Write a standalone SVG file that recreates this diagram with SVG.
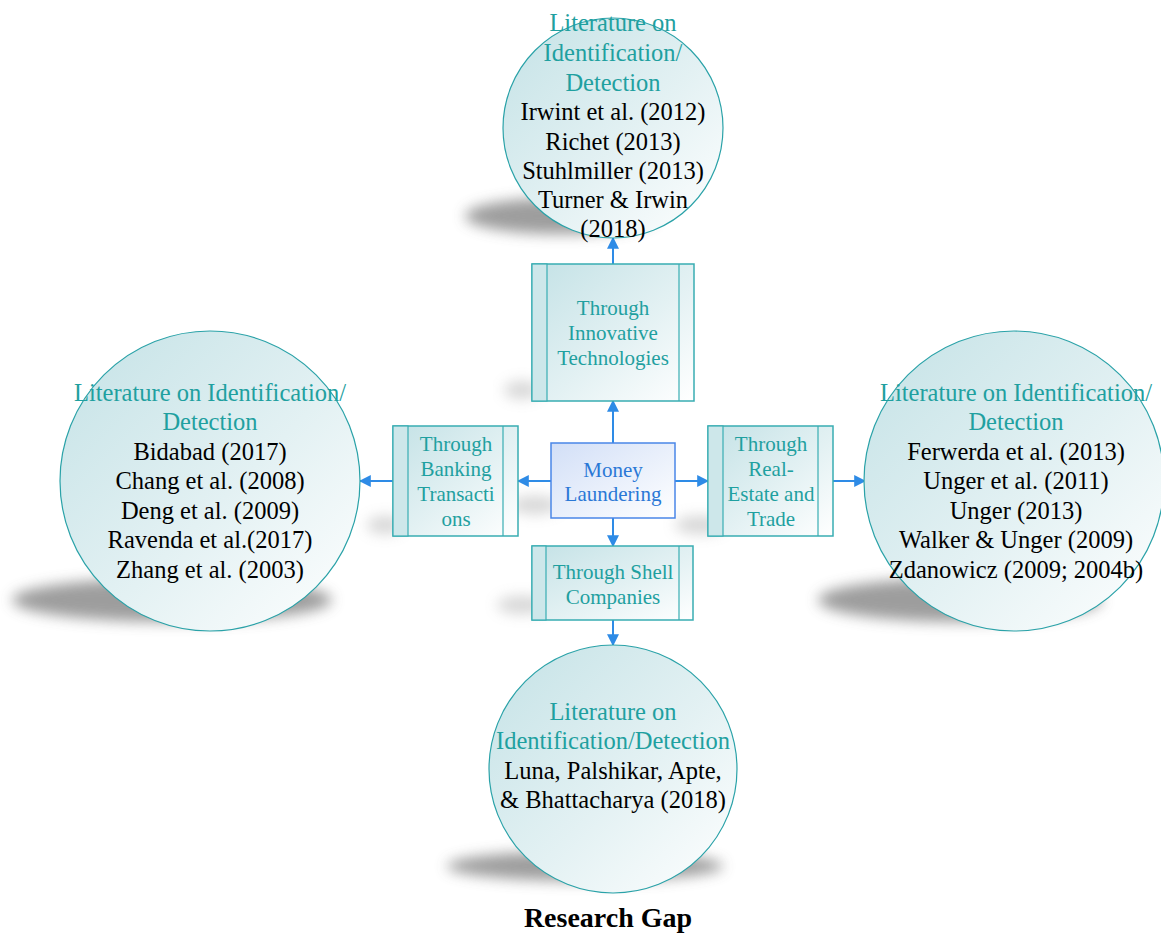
<svg xmlns="http://www.w3.org/2000/svg" width="1161" height="934" viewBox="0 0 1161 934">
  <defs>
    <linearGradient id="tealFill" x1="0" y1="0" x2="1" y2="1">
      <stop offset="0" stop-color="#c4e2e6"/>
      <stop offset="0.55" stop-color="#e3f1f3"/>
      <stop offset="1" stop-color="#ffffff"/>
    </linearGradient>
    <linearGradient id="blueFill" x1="0" y1="0" x2="1" y2="1">
      <stop offset="0" stop-color="#d2dff7"/>
      <stop offset="1" stop-color="#ffffff"/>
    </linearGradient>
    <filter id="soft" x="-30%" y="-100%" width="160%" height="300%">
      <feGaussianBlur stdDeviation="7"/>
    </filter>
    <marker id="arrow" viewBox="0 0 10 10" refX="9" refY="5" markerWidth="12" markerHeight="12" markerUnits="userSpaceOnUse" orient="auto">
      <path d="M0,0 L10,5 L0,10 z" fill="#2e8be6"/>
    </marker>
  </defs>
  <style>
    .circle { fill: url(#tealFill); stroke: #2aa2a8; stroke-width: 1.2; }
    .box { fill: url(#tealFill); stroke: #38adb2; stroke-width: 1.5; }
    .bar { fill: #cde7ea; stroke: #38adb2; stroke-width: 1.2; }
    .core { fill: url(#blueFill); stroke: #4a86e8; stroke-width: 1.5; }
    .shadow { fill: #8c8c8c; filter: url(#soft); opacity: 0.85; }
    .bshadow { fill: #9a9a9a; filter: url(#soft); opacity: 0.4; }
    .head { font-family: "Liberation Serif", "Times New Roman", serif; font-size: 24.5px; fill: #1fa0a0; text-anchor: middle; }
    .ref { font-family: "Liberation Serif", "Times New Roman", serif; font-size: 24.5px; fill: #000; text-anchor: middle; }
    .lbl { font-family: "Liberation Serif", "Times New Roman", serif; font-size: 21px; fill: #1fa0a0; text-anchor: middle; }
    .core-lbl { font-family: "Liberation Serif", "Times New Roman", serif; font-size: 21px; fill: #2a78d6; text-anchor: middle; }
    .title { font-family: "Liberation Serif", "Times New Roman", serif; font-size: 28px; font-weight: bold; fill: #000; text-anchor: middle; }
    .link { stroke: #2e8be6; stroke-width: 2; fill: none; marker-end: url(#arrow); }
    .divider { stroke: #38adb2; stroke-width: 1.2; }
  </style>

  <!-- drop shadows -->
  <g id="shadows">
    <ellipse class="shadow" cx="560" cy="216" rx="95" ry="18"/>
    <ellipse class="shadow" cx="172" cy="600" rx="160" ry="22"/>
    <ellipse class="shadow" cx="960" cy="600" rx="142" ry="22"/>
    <ellipse class="shadow" cx="585" cy="866" rx="138" ry="15"/>
    <ellipse class="bshadow" cx="535" cy="505" rx="25" ry="9"/>
    <ellipse class="bshadow" cx="522" cy="605" rx="25" ry="9"/>
    <ellipse class="bshadow" cx="700" cy="525" rx="25" ry="9"/>
    <ellipse class="bshadow" cx="522" cy="390" rx="18" ry="9"/>
    <ellipse class="bshadow" cx="385" cy="525" rx="18" ry="9"/>
  </g>

  <!-- connectors -->
  <g id="connectors">
    <line class="link" x1="613" y1="443" x2="613" y2="401"/>
    <line class="link" x1="613" y1="264" x2="613" y2="238"/>
    <line class="link" x1="551" y1="481" x2="518" y2="481"/>
    <line class="link" x1="393" y1="481" x2="360" y2="481"/>
    <line class="link" x1="675" y1="481" x2="708" y2="481"/>
    <line class="link" x1="833" y1="481" x2="865" y2="481"/>
    <line class="link" x1="613" y1="518" x2="613" y2="546"/>
    <line class="link" x1="613" y1="620" x2="613" y2="645"/>
  </g>

  <!-- centre -->
  <g id="money-laundering">
    <rect class="core" x="551" y="443" width="124" height="75"/>
    <text class="core-lbl" x="613" y="477">Money</text>
    <text class="core-lbl" x="613" y="501">Laundering</text>
  </g>

  <!-- channels -->
  <g id="innovative-technologies">
    <rect class="box" x="532" y="264" width="162" height="137"/>
    <rect class="bar" x="532" y="264" width="15" height="137"/>
    <line class="divider" x1="679" y1="264" x2="679" y2="401"/>
    <text class="lbl" x="613" y="315">Through</text>
    <text class="lbl" x="613" y="340">Innovative</text>
    <text class="lbl" x="613" y="365">Technologies</text>
  </g>

  <g id="banking-transactions">
    <rect class="box" x="393" y="426" width="125" height="110"/>
    <rect class="bar" x="393" y="426" width="15" height="110"/>
    <line class="divider" x1="503" y1="426" x2="503" y2="536"/>
    <text class="lbl" x="456" y="451">Through</text>
    <text class="lbl" x="456" y="476">Banking</text>
    <text class="lbl" x="456" y="501">Transacti</text>
    <text class="lbl" x="456" y="526">ons</text>
  </g>

  <g id="real-estate-trade">
    <rect class="box" x="708" y="426" width="125" height="110"/>
    <rect class="bar" x="708" y="426" width="15" height="110"/>
    <line class="divider" x1="818" y1="426" x2="818" y2="536"/>
    <text class="lbl" x="771" y="451">Through</text>
    <text class="lbl" x="771" y="476">Real-</text>
    <text class="lbl" x="771" y="501">Estate and</text>
    <text class="lbl" x="771" y="526">Trade</text>
  </g>

  <g id="shell-companies">
    <rect class="box" x="532" y="546" width="161" height="74"/>
    <rect class="bar" x="532" y="546" width="14" height="74"/>
    <line class="divider" x1="679" y1="546" x2="679" y2="620"/>
    <text class="lbl" x="613" y="579">Through Shell</text>
    <text class="lbl" x="613" y="604">Companies</text>
  </g>

  <!-- literature circles -->
  <g id="lit-top">
    <circle class="circle" cx="613" cy="128" r="110"/>
    <text class="head" x="613" y="31">Literature on</text>
    <text class="head" x="613" y="61">Identification/</text>
    <text class="head" x="613" y="91">Detection</text>
    <text class="ref" x="613" y="120">Irwint et al. (2012)</text>
    <text class="ref" x="613" y="150">Richet (2013)</text>
    <text class="ref" x="613" y="179">Stuhlmiller (2013)</text>
    <text class="ref" x="613" y="208">Turner &amp; Irwin</text>
    <text class="ref" x="613" y="237">(2018)</text>
  </g>

  <g id="lit-left">
    <circle class="circle" cx="210" cy="481" r="150"/>
    <text class="head" x="210" y="401">Literature on Identification/</text>
    <text class="head" x="210" y="430">Detection</text>
    <text class="ref" x="210" y="460">Bidabad (2017)</text>
    <text class="ref" x="210" y="489">Chang et al. (2008)</text>
    <text class="ref" x="210" y="519">Deng et al. (2009)</text>
    <text class="ref" x="210" y="548">Ravenda et al.(2017)</text>
    <text class="ref" x="210" y="578">Zhang et al. (2003)</text>
  </g>

  <g id="lit-right">
    <circle class="circle" cx="1014" cy="481" r="150"/>
    <text class="head" x="1016" y="401">Literature on Identification/</text>
    <text class="head" x="1016" y="430">Detection</text>
    <text class="ref" x="1016" y="460">Ferwerda et al. (2013)</text>
    <text class="ref" x="1016" y="489">Unger et al. (2011)</text>
    <text class="ref" x="1016" y="519">Unger (2013)</text>
    <text class="ref" x="1016" y="548">Walker &amp; Unger (2009)</text>
    <text class="ref" x="1016" y="578">Zdanowicz (2009; 2004b)</text>
  </g>

  <g id="lit-bottom">
    <circle class="circle" cx="613" cy="769" r="124"/>
    <text class="head" x="613" y="720">Literature on</text>
    <text class="head" x="613" y="749">Identification/Detection</text>
    <text class="ref" x="613" y="779">Luna, Palshikar, Apte,</text>
    <text class="ref" x="613" y="808">&amp; Bhattacharya (2018)</text>
  </g>

  <g id="caption">
    <text class="title" x="608" y="927">Research Gap</text>
  </g>
</svg>
